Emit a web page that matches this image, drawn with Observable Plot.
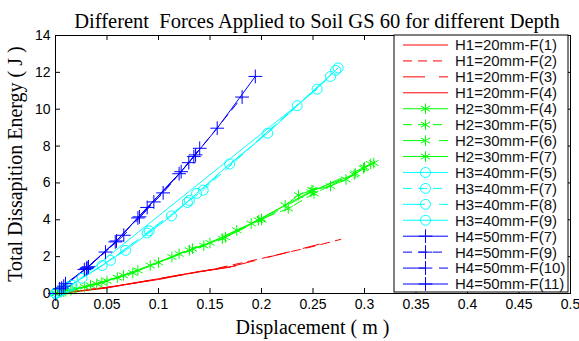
<!DOCTYPE html>
<html>
<head>
<meta charset="utf-8">
<script src="https://cdn.jsdelivr.net/npm/d3@7"></script>
<script src="https://cdn.jsdelivr.net/npm/@observablehq/plot@0.6"></script>
<style>
  html, body { margin: 0; padding: 0; background: #fff; }
  #chart { width: 579px; height: 341px; }
</style>
</head>
<body>
<div id="chart"></div>
<script>
// ---- text ----
const titleText = "Different\u00a0\u00a0Forces Applied to Soil GS 60 for different Depth";
const xLabel = "Displacement ( m )";
const yLabel = "Total Dissapition Energy ( J )";

// ---- ticks ----
const xTicks = [0, 0.05, 0.1, 0.15, 0.2, 0.25, 0.3, 0.35, 0.4, 0.45, 0.5];
const xTickLabels = ["0", "0.05", "0.1", "0.15", "0.2", "0.25", "0.3", "0.35", "0.4", "0.45", "0.5"];
const yTicks = [0, 2, 4, 6, 8, 10, 12, 14];
const yTickLabels = ["0", "2", "4", "6", "8", "10", "12", "14"];

// ---- series names ----
const seriesNames = [
  "H1=20mm-F(1)", "H1=20mm-F(2)", "H1=20mm-F(3)", "H1=20mm-F(4)",
  "H2=30mm-F(4)", "H2=30mm-F(5)", "H2=30mm-F(6)", "H2=30mm-F(7)",
  "H3=40mm-F(5)", "H3=40mm-F(7)", "H3=40mm-F(8)", "H3=40mm-F(9)",
  "H4=50mm-F(7)", "H4=50mm-F(9)", "H4=50mm-F(10)", "H4=50mm-F(11)"
];

// ---- H1 (red, no markers) ----
const h1f1X = [0, 0.02, 0.05, 0.073, 0.1, 0.137, 0.17];
const h1f1Y = [0, 0.1, 0.3, 0.53, 0.76, 1.16, 1.43];
const h1f2X = [0, 0.05, 0.1, 0.15, 0.2, 0.25, 0.277];
const h1f2Y = [0, 0.32, 0.78, 1.28, 1.9, 2.55, 2.94];
const h1f3X = [0, 0.06, 0.12, 0.17, 0.22, 0.256];
const h1f3Y = [0, 0.4, 1.0, 1.45, 2.16, 2.67];
const h1f4X = [0, 0.03, 0.06, 0.1, 0.14, 0.175];
const h1f4Y = [0, 0.18, 0.42, 0.8, 1.2, 1.5];

// ---- H2 (green, asterisk) ----
const h2f4X = [0, 0.005, 0.02, 0.034, 0.066, 0.092, 0.133, 0.162, 0.197, 0.223, 0.236, 0.249, 0.267, 0.282, 0.299, 0.306];
const h2f4Y = [0, 0.06, 0.25, 0.44, 0.98, 1.52, 2.43, 2.98, 3.97, 4.79, 5.34, 5.61, 5.83, 6.19, 6.79, 7.03];
const h2f5X = [0, 0.01, 0.028, 0.05, 0.08, 0.113, 0.144, 0.176, 0.2, 0.226, 0.251, 0.291, 0.309];
const h2f5Y = [0, 0.12, 0.36, 0.68, 1.25, 1.98, 2.6, 3.43, 4.05, 4.61, 5.43, 6.52, 7.08];
const h2f6X = [0, 0.008, 0.04, 0.06, 0.1, 0.13, 0.165, 0.2, 0.248, 0.3];
const h2f6Y = [0, 0.1, 0.52, 0.86, 1.68, 2.35, 3.05, 4.0, 5.5, 6.85];
const h2f7X = [0, 0.015, 0.045, 0.075, 0.12, 0.15, 0.19, 0.25, 0.29];
const h2f7Y = [0, 0.18, 0.6, 1.12, 2.15, 2.75, 3.8, 5.6, 6.45];

// ---- H3 (cyan, circle) ----
const h3f5X = [0, 0.004, 0.0258, 0.068, 0.1126, 0.137, 0.169, 0.206, 0.2346, 0.2744];
const h3f5Y = [0, 0.1, 0.83, 2.34, 4.21, 5.43, 7.03, 8.7, 10.19, 12.24];
const h3f7X = [0, 0.008, 0.0453, 0.089, 0.128, 0.1434, 0.272];
const h3f7Y = [0, 0.22, 1.52, 3.28, 4.94, 5.61, 12.11];
const h3f8X = [0, 0.012, 0.0534, 0.091, 0.13, 0.267];
const h3f8Y = [0, 0.35, 1.8, 3.4, 5.05, 11.78];
const h3f9X = [0, 0.002, 0.016, 0.254];
const h3f9Y = [0, 0.05, 0.45, 11.09];

// ---- H4 (blue, plus) ----
const h4f7X = [0, 0.0097, 0.0307, 0.0592, 0.089, 0.122, 0.157, 0.194];
const h4f7Y = [0, 0.53, 1.4, 2.85, 4.67, 6.61, 8.97, 11.78];
const h4f9X = [0, 0.006, 0.028, 0.0485, 0.0815, 0.1045, 0.1343, 0.1812];
const h4f9Y = [0, 0.3, 1.3, 2.25, 4.16, 5.46, 7.43, 10.66];
const h4f10X = [0, 0.004, 0.032, 0.0663, 0.0955, 0.1294, 0.14];
const h4f10Y = [0, 0.25, 1.45, 3.16, 4.97, 7.1, 7.88];
const h4f11X = [0, 0.008, 0.03, 0.058, 0.08, 0.12, 0.136];
const h4f11Y = [0, 0.4, 1.35, 2.8, 4.1, 6.5, 7.52];

const seriesX = [h1f1X, h1f2X, h1f3X, h1f4X, h2f4X, h2f5X, h2f6X, h2f7X, h3f5X, h3f7X, h3f8X, h3f9X, h4f7X, h4f9X, h4f10X, h4f11X];
const seriesY = [h1f1Y, h1f2Y, h1f3Y, h1f4Y, h2f4Y, h2f5Y, h2f6Y, h2f7Y, h3f5Y, h3f7Y, h3f8Y, h3f9Y, h4f7Y, h4f9Y, h4f10Y, h4f11Y];

// ---- styles ----
const groupColor = ["#ff0000", "#00ff00", "#00ffff", "#0000ff"];
const groupSymbol = [null, "asterisk", "circle", "plus"];
const groupR = [0, 5, 5, 4.5];
const styleDash = [null, "9,6", "22,14", null]; // by position in group

const rows = [];
const dots = [];
seriesNames.forEach((name, i) => {
  const g = Math.floor(i / 4), k = i % 4;
  seriesX[i].forEach((x, j) => {
    const r = {series: name, x, y: seriesY[i][j], color: groupColor[g], dash: styleDash[k], symbol: groupSymbol[g]};
    rows.push(r);
    if (groupSymbol[g]) dots.push(r);
  });
});

const W = 579, H = 341;
const mL = 55, mR = 9, mT = 35, mB = 48;
const innerW = W - mL - mR, innerH = H - mT - mB;

const lineMarks = seriesNames.map((name, i) => {
  const g = Math.floor(i / 4), k = i % 4;
  return Plot.line(rows.filter(r => r.series === name), {
    x: "x", y: "y", stroke: groupColor[g], strokeWidth: 1,
    strokeDasharray: styleDash[k] || undefined
  });
});
const dotMarks = [1, 2, 3].map(g => Plot.dot(dots.filter(d => d.symbol === groupSymbol[g]), {
  x: "x", y: "y", symbol: groupSymbol[g], stroke: groupColor[g], fill: "none",
  strokeWidth: 1, r: groupR[g]
}));

const chart = Plot.plot({
  width: W, height: H,
  marginLeft: mL, marginRight: mR, marginTop: mT, marginBottom: mB,
  style: {fontFamily: "'Liberation Sans', Arial, sans-serif", fontSize: "14px", background: "#fff", color: "#000"},
  x: {domain: [0, 0.5]},
  y: {domain: [0, 14]},
  marks: [
    ...lineMarks,
    ...dotMarks,
    Plot.frame({stroke: "#000", strokeWidth: 1}),
    Plot.tickX(xTicks, {x: d => d, insetTop: innerH - 5, stroke: "#000"}),
    Plot.tickX(xTicks, {x: d => d, insetBottom: innerH - 5, stroke: "#000"}),
    Plot.tickY(yTicks, {y: d => d, insetRight: innerW - 5, stroke: "#000"}),
    Plot.tickY(yTicks, {y: d => d, insetLeft: innerW - 5, stroke: "#000"}),
    Plot.axisX({ticks: xTicks, tickSize: 0, tickPadding: 6, tickFormat: d => xTickLabels[xTicks.indexOf(d)], label: null}),
    Plot.axisY({ticks: yTicks, tickSize: 0, tickPadding: 5, tickFormat: d => yTickLabels[yTicks.indexOf(d)], label: null})
  ]
});
document.getElementById("chart").appendChild(chart);

const svg = d3.select(chart);
const serif = "'Liberation Serif', 'Times New Roman', serif";
svg.append("text").attr("x", 317).attr("y", 28).attr("text-anchor", "middle")
  .style("font-family", serif).style("font-size", "20.5px").attr("fill", "#000").text(titleText);
svg.append("text").attr("x", mL + innerW / 2).attr("y", 334).attr("text-anchor", "middle")
  .style("font-family", serif).style("font-size", "20px").attr("fill", "#000").text(xLabel);
svg.append("text").attr("transform", `translate(22,${mT + innerH / 2}) rotate(-90)`).attr("text-anchor", "middle")
  .style("font-family", serif).style("font-size", "20px").attr("fill", "#000").text(yLabel);

// legend
const lg = svg.append("g");
const lx0 = 394, ly0 = 35, lx1 = 568, ly1 = 292;
lg.append("rect").attr("x", lx0).attr("y", ly0).attr("width", lx1 - lx0).attr("height", ly1 - ly0)
  .attr("fill", "#fff").attr("stroke", "#000").attr("stroke-width", 1);
const step = (284 - 45) / 15;
const d3sym = {asterisk: d3.symbolAsterisk, circle: d3.symbolCircle, plus: d3.symbolPlus};
seriesNames.forEach((name, i) => {
  const g = Math.floor(i / 4), k = i % 4;
  const y = 45 + i * step;
  lg.append("line").attr("x1", 403).attr("x2", 448).attr("y1", y).attr("y2", y)
    .attr("stroke", groupColor[g]).attr("stroke-width", 1)
    .attr("stroke-dasharray", styleDash[k] || null);
  if (groupSymbol[g]) {
    lg.append("path").attr("transform", `translate(425.5,${y})`)
      .attr("d", d3.symbol(d3sym[groupSymbol[g]], Math.PI * groupR[g] * groupR[g])())
      .attr("fill", "none").attr("stroke", groupColor[g]).attr("stroke-width", 1);
  }
  lg.append("text").attr("x", 455).attr("y", y).attr("dy", "0.36em").attr("text-anchor", "start")
    .style("font-family", "'Liberation Sans', Arial, sans-serif").style("font-size", "15px")
    .attr("fill", "#111").text(name);
});
</script>
</body>
</html>
